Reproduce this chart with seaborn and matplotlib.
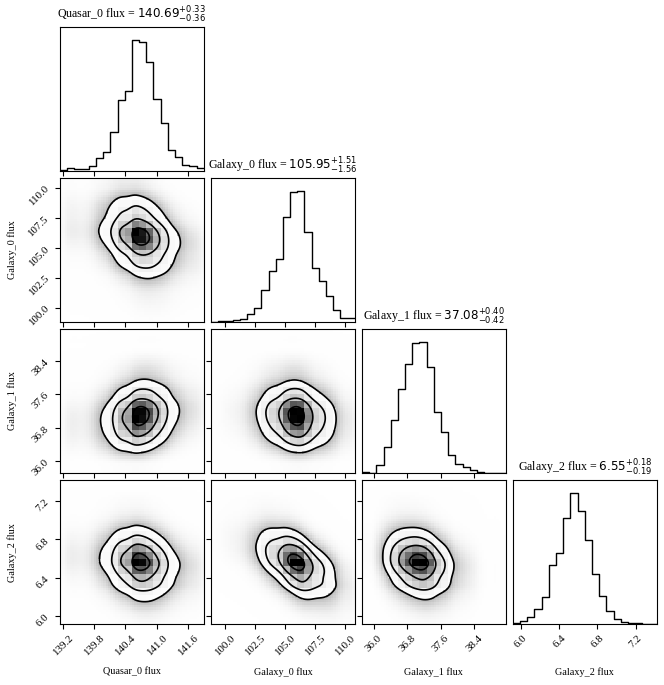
import numpy as np
import pandas as pd
import matplotlib
matplotlib.use("Agg")
import matplotlib.pyplot as plt
from matplotlib.colors import LinearSegmentedColormap
import seaborn as sns
from math import erf

labels = ["Quasar_0 flux", "Galaxy_0 flux", "Galaxy_1 flux", "Galaxy_2 flux"]
medians = [140.69, 105.95, 37.08, 6.55]
err_hi = [0.33, 1.51, 0.40, 0.18]
err_lo = [0.36, 1.56, 0.42, 0.19]

# axis range of each parameter (20 histogram bins over it)
ranges = [(139.14, 141.91), (98.82, 110.82), (35.72, 39.16), (5.915, 7.42)]

# 1d histogram counts
quasar_counts = [3, 10, 7, 7, 14, 37, 55, 115, 212, 240, 391, 384, 325, 215, 142, 62, 40, 19, 15, 9]
galaxy0_counts = [1, 2, 4, 6, 9, 24, 42, 95, 152, 190, 315, 390, 392, 270, 163, 124, 77, 36, 12, 12]
galaxy1_counts = [3, 1, 24, 77, 157, 249, 324, 387, 389, 314, 182, 122, 52, 27, 17, 9, 2, 0, 1, 0]
galaxy2_counts = [4, 8, 20, 44, 81, 177, 214, 317, 392, 338, 252, 150, 85, 38, 15, 6, 3, 2, 0, 0]
counts = [quasar_counts, galaxy0_counts, galaxy1_counts, galaxy2_counts]

ticks = [[139.2, 139.8, 140.4, 141.0, 141.6],
         [100.0, 102.5, 105.0, 107.5, 110.0],
         [36.0, 36.8, 37.6, 38.4],
         [6.0, 6.4, 6.8, 7.2]]
tick_labels = [["139.2", "139.8", "140.4", "141.0", "141.6"],
               ["100.0", "102.5", "105.0", "107.5", "110.0"],
               ["36.0", "36.8", "37.6", "38.4"],
               ["6.0", "6.4", "6.8", "7.2"]]

# correlation of each pair (row, col), judged from the tilt of the contours
corr = {(1, 0): -0.25, (2, 0): 0.15, (2, 1): -0.1,
        (3, 0): -0.15, (3, 1): -0.5, (3, 2): -0.2}

plt.rcParams["font.family"] = ["Liberation Serif", "DejaVu Serif"]

SUB = 3
NF = 20 * SUB
BW = 0.6
z_tab = np.linspace(-6, 6, 3001)
phi_tab = 0.5 * (1 + np.array([erf(v / np.sqrt(2)) for v in z_tab]))


def fine_axis(k):
    lo, hi = ranges[k]
    edges = np.linspace(lo, hi, 21)
    p = np.asarray(counts[k], float)
    p /= p.sum()
    cdf = np.concatenate([[0], np.cumsum(p)])
    xs = lo + (hi - lo) / NF * (np.arange(NF) + 0.5)
    u = np.clip(np.interp(xs, edges, cdf), 1e-6, 1 - 1e-6)
    z = np.interp(u, phi_tab, z_tab)
    return xs, np.repeat(p, SUB), z


def joint(i, j, r):
    xs, px, zx = fine_axis(j)
    ys, py, zy = fine_axis(i)
    ZX, ZY = np.meshgrid(zx, zy, indexing="ij")
    c = np.exp(-(r * r * (ZX ** 2 + ZY ** 2) - 2 * r * ZX * ZY) / (2 * (1 - r * r)))
    W = np.outer(px, py) * c / np.sqrt(1 - r * r)
    W /= W.sum()
    X, Y = np.meshgrid(xs, ys, indexing="ij")
    return pd.DataFrame({"x": X.ravel(), "y": Y.ravel(), "w": W.ravel()}), W, X, Y


def smooth(W, sx, sy):
    def kern(s):
        h = int(np.ceil(4 * s))
        t = np.arange(-h, h + 1)
        k = np.exp(-0.5 * (t / s) ** 2)
        return k / k.sum()
    S = np.apply_along_axis(lambda v: np.convolve(v, kern(sx), mode="same"), 0, W)
    return np.apply_along_axis(lambda v: np.convolve(v, kern(sy), mode="same"), 1, S)


def outer_mask(W, X, Y, i, j):
    # region inside the outermost (2 sigma) contour, using the same smoothing as the kde
    neff = 1.0 / np.sum(W ** 2)
    fac = neff ** (-1 / 6) * BW
    mx, my = np.sum(W * X), np.sum(W * Y)
    sdx = np.sqrt(np.sum(W * (X - mx) ** 2))
    sdy = np.sqrt(np.sum(W * (Y - my) ** 2))
    stepx = (ranges[j][1] - ranges[j][0]) / NF
    stepy = (ranges[i][1] - ranges[i][0]) / NF
    S = smooth(W, fac * sdx / stepx, fac * sdy / stepy)
    srt = np.sort(S.ravel())[::-1]
    lev = srt[np.searchsorted(np.cumsum(srt) / srt.sum(), 0.8647)]
    return S >= lev, S / lev


dens_cmap = LinearSegmentedColormap.from_list("dens", [(1, 1, 1, 0), (0, 0, 0, 1)])
haze_cmap = LinearSegmentedColormap.from_list("haze", [(1, 1, 1, 0), (0.7, 0.7, 0.7, 1)])
sigmas = np.array([2.0, 1.5, 1.0, 0.5])
kde_levels = list(np.exp(-0.5 * sigmas ** 2))

fig, axes = plt.subplots(4, 4, figsize=(6.64, 6.85))
fig.subplots_adjust(left=0.0904, right=0.989, bottom=0.089, top=0.9606,
                    wspace=0.05, hspace=0.05)

for i in range(4):
    for j in range(4):
        ax = axes[i, j]
        if j > i:
            ax.set_visible(False)
            continue
        if i == j:
            lo, hi = ranges[i]
            step = (hi - lo) / 20
            hist_df = pd.DataFrame({"x": lo + step * (np.arange(20) + 0.5),
                                    "n": np.asarray(counts[i], float)})
            sns.histplot(data=hist_df, x="x", weights="n", bins=20, binrange=(lo, hi),
                         element="step", fill=False, color="k", linewidth=1.0, ax=ax)
            ax.set_ylim(0, 1.1 * max(counts[i]))
            ax.set_yticks([])
            title = "{} = ${:.2f}^{{+{:.2f}}}_{{-{:.2f}}}$".format(
                labels[i], medians[i], err_hi[i], err_lo[i])
            ax.set_title(title, fontsize=8.6)
        else:
            df, W, X, Y = joint(i, j, corr[(i, j)])
            inside, rel = outer_mask(W, X, Y, i, j)
            # faint shading standing in for the scattered samples outside the contours
            haze = df.assign(w=np.where(inside, 0.0, np.minimum(rel, 1.0) ** 0.5).ravel())
            sns.histplot(data=haze, x="x", y="y", weights="w", bins=NF,
                         binrange=(ranges[j], ranges[i]),
                         cmap=haze_cmap, vmin=0, vmax=1, ax=ax)
            sns.histplot(data=df, x="x", y="y", weights="w", bins=20,
                         binrange=(ranges[j], ranges[i]),
                         cmap=dens_cmap, vmin=0, ax=ax)
            sns.kdeplot(data=df, x="x", y="y", weights="w", levels=kde_levels, color="k",
                        linewidths=1.2, bw_adjust=BW, gridsize=100, ax=ax)
            ax.set_ylim(ranges[i])
            ax.set_yticks(ticks[i])
            if j == 0:
                ax.set_yticklabels(tick_labels[i], rotation=45, fontsize=7.8)
                ax.set_ylabel(labels[i], fontsize=7.3)
                ax.yaxis.set_label_coords(-0.3, 0.5)
            else:
                ax.set_yticklabels([])
                ax.set_ylabel("")
        ax.set_xlim(ranges[j])
        ax.set_xticks(ticks[j])
        if i == 3:
            ax.set_xticklabels(tick_labels[j], rotation=45, fontsize=7.8)
            ax.set_xlabel(labels[j], fontsize=7.3)
            ax.xaxis.set_label_coords(0.5, -0.3)
        else:
            ax.set_xticklabels([])
            ax.set_xlabel("")
        if i == j:
            ax.set_ylabel("")

fig.savefig("out.png", dpi=100)
